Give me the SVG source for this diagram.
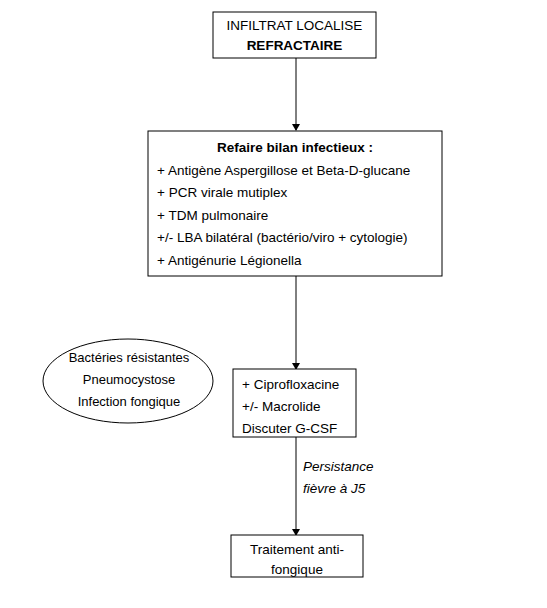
<svg xmlns="http://www.w3.org/2000/svg" width="547" height="608" viewBox="0 0 547 608">
<style>
.b{fill:#fff;stroke:#000;stroke-width:1}
text{font-family:"Liberation Sans",Arial,sans-serif;font-size:13.5px;fill:#000}
.c{text-anchor:middle}
.e{font-size:13px}
.bold{font-weight:bold}
.it{font-style:italic}
.l{stroke:#000;stroke-width:1;fill:none}
</style>
<defs>
<marker id="ah" markerWidth="7" markerHeight="8" refX="6" refY="4" orient="auto" markerUnits="userSpaceOnUse">
<path d="M0,0 L7,4 L0,8 z" fill="#000"/>
</marker>
</defs>
<rect width="547" height="608" fill="#fff"/>
<g id="connectors">
<line class="l" x1="296" y1="58" x2="296" y2="130" marker-end="url(#ah)"/>
<line class="l" x1="296" y1="276" x2="296" y2="369" marker-end="url(#ah)"/>
<line class="l" x1="296" y1="437" x2="296" y2="535" marker-end="url(#ah)"/>
<text class="it" x="303" y="471">Persistance</text>
<text class="it" x="303" y="493">fièvre à J5</text>
</g>
<g id="n1">
<rect class="b" x="213" y="12" width="163" height="46"/>
<text class="c" x="294.5" y="30">INFILTRAT LOCALISE</text>
<text class="c bold" x="294.5" y="50">REFRACTAIRE</text>
</g>
<g id="n2">
<rect class="b" x="148" y="131" width="294" height="145"/>
<text class="c bold" x="295" y="152">Refaire bilan infectieux :</text>
<text x="157" y="175">+ Antigène Aspergillose et Beta-D-glucane</text>
<text x="157" y="197">+ PCR virale mutiplex</text>
<text x="157" y="220">+ TDM pulmonaire</text>
<text x="157" y="242">+/- LBA bilatéral (bactério/viro + cytologie)</text>
<text x="157" y="265">+ Antigénurie Légionella</text>
</g>
<g id="n3">
<ellipse class="b" cx="128" cy="381" rx="85" ry="42"/>
<text class="c e" x="129" y="362">Bactéries résistantes</text>
<text class="c e" x="129" y="384">Pneumocystose</text>
<text class="c e" x="129" y="406">Infection fongique</text>
</g>
<g id="n4">
<rect class="b" x="233" y="369" width="123" height="68"/>
<text x="242" y="389">+ Ciprofloxacine</text>
<text x="242" y="411">+/- Macrolide</text>
<text x="242" y="433">Discuter G-CSF</text>
</g>
<g id="n5">
<rect class="b" x="231" y="535" width="132" height="42"/>
<text class="c" x="297" y="554">Traitement anti-</text>
<text class="c" x="297" y="574">fongique</text>
</g>
</svg>
